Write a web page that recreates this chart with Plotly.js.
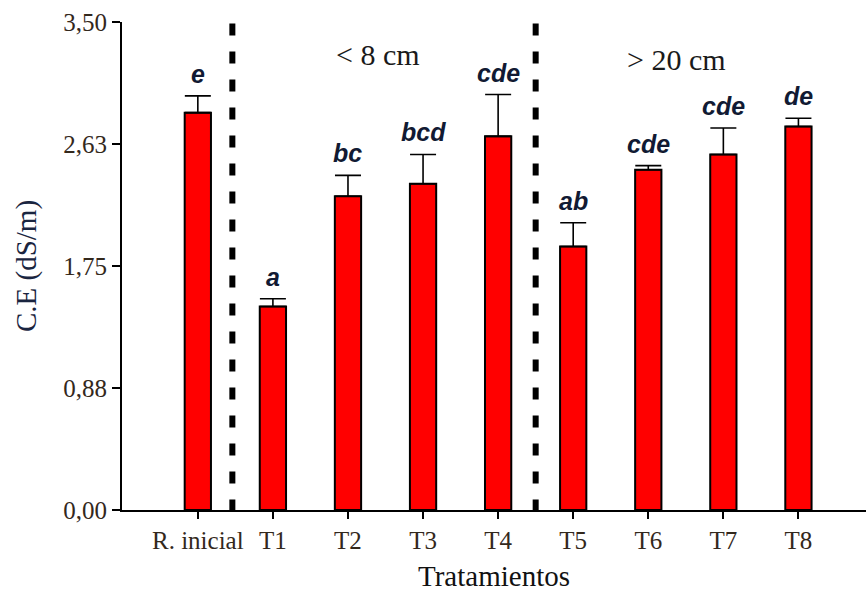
<!DOCTYPE html>
<html>
<head>
<meta charset="utf-8">
<script src="https://cdn.plot.ly/plotly-3.0.1.min.js"></script>
<style>
  html, body { margin: 0; padding: 0; background: #fff; }
  #chart { width: 866px; height: 592px; }
</style>
</head>
<body>
<div id="chart"></div>
<script>
// Treatments and mean electrical conductivity (dS/m) with their standard errors
const tratamientos = ['R. inicial', 'T1', 'T2', 'T3', 'T4', 'T5', 'T6', 'T7', 'T8'];
const ceMedia = [2.85, 1.46, 2.25, 2.34, 2.68, 1.89, 2.44, 2.55, 2.75];
const ceError = [0.12, 0.055, 0.15, 0.21, 0.30, 0.17, 0.03, 0.19, 0.06];
// Tukey grouping letters
const letras = ['e', 'a', 'bc', 'bcd', 'cde', 'ab', 'cde', 'cde', 'de'];
// Y axis ticks
const yTicks = [0, 0.875, 1.75, 2.625, 3.5];
const yTickText = ['0,00', '0,88', '1,75', '2,63', '3,50'];
// Soil-depth group labels
const grupos = ['&lt; 8 cm', '&gt; 20 cm'];

const serif = '"Liberation Serif", "Times New Roman", serif';
const sans = '"Liberation Sans", Arial, sans-serif';
const tickColor = '#33281c';

const barras = {
  type: 'bar',
  x: tratamientos,
  y: ceMedia,
  width: 0.35,
  marker: { color: '#ff0000', line: { color: '#000', width: 2 } },
  error_y: {
    type: 'data',
    symmetric: false,
    array: ceError,
    arrayminus: ceError.map(() => 0),
    color: '#000',
    thickness: 1.6,
    width: 13
  },
  hoverinfo: 'x+y'
};

// Letters above each error bar
const anotLetras = tratamientos.map((t, i) => ({
  x: t,
  y: ceMedia[i] + ceError[i],
  xref: 'x', yref: 'y',
  text: letras[i],
  showarrow: false,
  yanchor: 'bottom',
  yshift: 6,
  font: { family: sans, size: 25, color: '#111a33', weight: 'bold', style: 'italic' }
}));

const anotGrupos = [
  { x: 2.40, y: 3.27, text: grupos[0] },
  { x: 6.37, y: 3.23, text: grupos[1] }
].map(a => Object.assign(a, {
  xref: 'x', yref: 'y', showarrow: false,
  font: { family: serif, size: 30, color: '#1a1a1a' }
}));

// Dashed separators between the groups
const separador = x => ({
  type: 'line', xref: 'x', yref: 'y',
  x0: x, x1: x, y0: 3.49, y1: -0.014,
  line: { color: '#000', width: 6, dash: '12px,16px' }
});

const layout = {
  width: 866,
  height: 592,
  margin: { l: 122, r: 0, t: 22, b: 82 },
  paper_bgcolor: '#fff',
  plot_bgcolor: '#fff',
  showlegend: false,
  xaxis: {
    type: 'category',
    range: [-1.01, 8.9],
    showline: true, linecolor: '#000', linewidth: 2,
    ticks: 'outside', ticklen: 7, tickwidth: 2, tickcolor: '#000',
    showgrid: false, zeroline: false,
    tickfont: { family: serif, size: 25, color: tickColor },
    title: { text: 'Tratamientos', font: { family: serif, size: 29, color: '#111' }, standoff: 13 }
  },
  yaxis: {
    range: [0, 3.5],
    tickvals: yTicks,
    ticktext: yTickText,
    showline: true, linecolor: '#000', linewidth: 2,
    ticks: 'outside', ticklen: 8, tickwidth: 2, tickcolor: '#000',
    showgrid: false, zeroline: false,
    tickfont: { family: serif, size: 25, color: tickColor },
    title: { text: 'C.E (dS/m)', font: { family: serif, size: 29, color: '#1a2540' }, standoff: 18 }
  },
  shapes: [separador(0.46), separador(4.5)],
  annotations: anotLetras.concat(anotGrupos)
};

Plotly.newPlot('chart', [barras], layout, { displayModeBar: false, staticPlot: true });
</script>
</body>
</html>
